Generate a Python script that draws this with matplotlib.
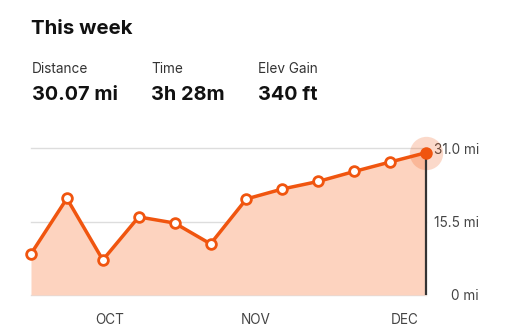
import matplotlib.pyplot as plt

plt.rcParams['font.family'] = ['Inter', 'DejaVu Sans']

# weekly distance (mi), last point = this week
weeks = list(range(12))
miles = [8.7, 20.4, 7.4, 16.5, 15.2, 10.8, 20.3, 22.4, 24.0, 26.1, 28.1, 30.07]
month_pos = [2.2, 6.27, 10.4]
month_labels = ['OCT', 'NOV', 'DEC']
y_ticks = [0, 15.5, 31.0]
y_labels = ['0 mi', '15.5 mi', '31.0 mi']

stat_names = ['Distance', 'Time', 'Elev Gain']
stat_values = ['30.07 mi', '3h 28m', '340 ft']
stat_x = [32, 151, 258]

orange = '#F0550F'
fill = '#FDD3BF'

fig = plt.figure(figsize=(5.12, 3.32), dpi=100)
fig.patch.set_facecolor('white')

W, H = 512, 332
fig.text(31 / W, 1 - 29 / H, 'This week', fontsize=14.7, fontweight='bold',
         color='#111111', va='center', ha='left')
for name, val, x in zip(stat_names, stat_values, stat_x):
    fig.text(x / W, 1 - 69 / H, name, fontsize=9.8, color='#333333',
             va='center', ha='left')
    fig.text(x / W, 1 - 95 / H, val, fontsize=14.3, fontweight='bold',
             color='#111111', va='center', ha='left')

# axes: x 31..426 px, y 0 at 295 px, 31 at 148.3 px
left, right = 31 / W, 426 / W
bottom = (H - 295) / H
top = (H - 148.3) / H
ax = fig.add_axes([left, bottom, right - left, top - bottom])
ax.set_xlim(0, 11)
ax.set_ylim(0, 31)

for yv in y_ticks:
    ax.axhline(yv, color='#DDDDDD', lw=1, zorder=0, clip_on=False)

ax.fill_between(weeks, miles, 0, color=fill, lw=0, zorder=1)
ax.plot(weeks, miles, color=orange, lw=2.5, zorder=3, solid_joinstyle='round',
        clip_on=False)
ax.plot(weeks[:-1], miles[:-1], 'o', ms=7, mfc='white', mec=orange, mew=2,
        zorder=4, clip_on=False)
ax.plot(weeks[-1], miles[-1], 'o', ms=24, color=orange, alpha=0.22, mew=0,
        zorder=2, clip_on=False)
ax.vlines(weeks[-1], 0, miles[-1], color='#333333', lw=1.6, zorder=3,
          clip_on=False)
ax.plot(weeks[-1], miles[-1], 'o', ms=9, color=orange, mew=0, zorder=6,
        clip_on=False)

for s in ax.spines.values():
    s.set_visible(False)

ax.set_xticks(month_pos)
ax.set_xticklabels(month_labels)
ax.tick_params(axis='x', length=0, pad=13, labelsize=9.8, labelcolor='#444444')

ax.yaxis.tick_right()
ax.set_yticks(y_ticks)
ax.set_yticklabels(y_labels)
ax.tick_params(axis='y', length=0, pad=38, labelsize=9.8, labelcolor='#444444')
for lbl in ax.get_yticklabels():
    lbl.set_horizontalalignment('right')

fig.savefig('out.png', dpi=100)
